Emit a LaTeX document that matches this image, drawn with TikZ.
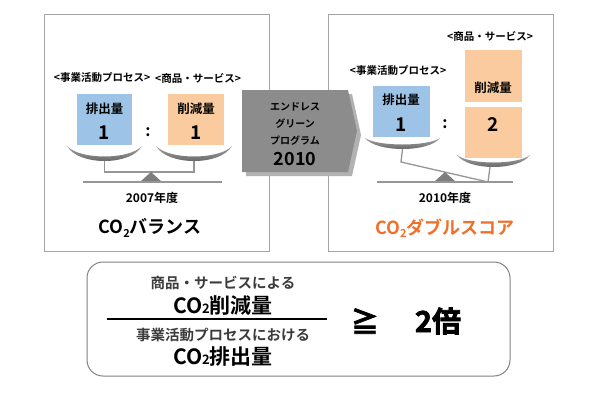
\documentclass[tikz,border=0pt]{standalone}
\usepackage{fontspec}
\setmainfont{Noto Sans CJK JP}[BoldFont={Noto Sans CJK JP Bold}]
\newfontfamily\geqfont{Noto Sans CJK JP Bold}[FakeBold=2.5]
\definecolor{boxline}{RGB}{165,165,165}
\definecolor{bluef}{RGB}{157,195,230}
\definecolor{orangef}{RGB}{249,203,158}
\definecolor{arrowg}{RGB}{140,140,140}
\definecolor{arrowsh}{RGB}{178,178,178}
\definecolor{orangetxt}{RGB}{240,112,42}
\definecolor{beamc}{RGB}{150,150,150}
\definecolor{fulc}{RGB}{125,125,125}
\definecolor{pantop}{RGB}{165,165,165}
\definecolor{panbot}{RGB}{85,85,85}
\definecolor{txtgray}{RGB}{60,60,60}
\definecolor{rbox}{RGB}{130,130,130}
\newcommand{\fsz}[1]{\fontsize{#1}{#1}\selectfont}
\newcommand{\drawpan}[4]{%
  \shade[top color=pantop,bottom color=panbot]
    (#1,#3) .. controls ({#1+0.15*(#2-#1)},{(4*#4-#3)/3}) and ({#2-0.15*(#2-#1)},{(4*#4-#3)/3}) .. (#2,#3)
    .. controls ({#2-0.17*(#2-#1)},{(4*(#4-4.5)-#3)/3}) and ({#1+0.17*(#2-#1)},{(4*(#4-4.5)-#3)/3}) .. (#1,#3) -- cycle;}
\tikzset{
  frame/.style={draw=boxline, line width=1.3pt, inner sep=0pt, anchor=north west},
  fillbox/.style={inner sep=0pt, anchor=north west},
  lbl/.style={font=\bfseries\fsz{10.5}, inner sep=0pt},
  qty/.style={font=\bfseries\fsz{12.5}, inner sep=0pt},
  num/.style={font=\bfseries\fsz{19}, inner sep=0pt},
  colon/.style={font=\bfseries\fsz{16}, inner sep=0pt},
  year/.style={font=\bfseries\fsz{12}, inner sep=0pt},
  title/.style={font=\bfseries\fsz{18}, inner sep=0pt},
  arrtxt/.style={font=\bfseries\fsz{10}, inner sep=0pt},
  beam/.style={draw=beamc, line width=1.3pt},
  ground/.style={draw=beamc, line width=1.5pt},
  fulcrum/.style={fill=fulc},
}
\newcommand{\cosub}[1]{CO\raisebox{-0.35ex}{\fsz{#1}2}}
\begin{document}
\begin{tikzpicture}[x=1pt,y=-1pt]
\useasboundingbox (0,0) rectangle (600,400);
\fill[white] (0,0) rectangle (600,400);
% frames
\node[frame, minimum width=225pt, minimum height=237pt] (lbox) at (44,14) {};
\node[frame, minimum width=225pt, minimum height=237pt] (rbox) at (328,14) {};
% ---------- left panel ----------
\node[lbl] (lproc) at (102,78) {<事業活動プロセス>};
\node[lbl] (lprod) at (198,78) {<商品・サービス>};
\node[fillbox, fill=bluef, minimum width=55pt, minimum height=51pt] (lblue) at (77,94) {};
\node[fillbox, fill=orangef, minimum width=56pt, minimum height=51pt] (lorange) at (168,94) {};
\node[qty] (lemit) at (104.5,109) {排出量};
\node[num] (lone) at (104.5,133) {1};
\node[qty] (lred) at (196,109) {削減量};
\node[num] (ltwo) at (196,133) {1};
\node[colon] (lcolon) at (148,132) {:};
\drawpan{67}{142}{146}{161}
\drawpan{156}{232}{146}{161}
\coordinate (lpa) at (104.5,161);
\coordinate (lpb) at (194,161);
\draw[beam] (lpa) -- (104.5,172) -- (194,172) -- (lpb);
\fill[fulcrum] (151,172) -- (162,182) -- (140,182) -- cycle;
\coordinate (lg1) at (83,182);
\coordinate (lg2) at (222,182);
\draw[ground] (lg1) -- (lg2);
\node[year] (lyear) at (152,198) {2007年度};
\node[title] (ltitle) at (150,228) {\cosub{11}バランス};
% ---------- right panel ----------
\node[lbl] (rprod) at (490,36) {<商品・サービス>};
\node[lbl] (rproc) at (398,71) {<事業活動プロセス>};
\node[fillbox, fill=bluef, minimum width=57pt, minimum height=51pt] (rblue) at (373,86) {};
\node[fillbox, fill=orangef, minimum width=57pt, minimum height=52pt] (rorange1) at (465,50) {};
\node[fillbox, fill=orangef, minimum width=57pt, minimum height=51pt] (rorange2) at (465,107) {};
\node[qty] (remit) at (401,100) {排出量};
\node[num] (rone) at (401,125) {1};
\node[qty] (rred) at (493,88) {削減量};
\node[num] (rtwo) at (493,125) {2};
\node[colon] (rcolon) at (445,124) {:};
\drawpan{365}{440}{138}{149}
\drawpan{457}{530}{155}{167}
\coordinate (rpa) at (402.5,149);
\coordinate (rpb) at (490,167);
\draw[beam] (rpa) -- (401,162) -- (488,182) -- (rpb);
\fill[fulcrum] (445,172) -- (456,182) -- (434,182) -- cycle;
\coordinate (rg1) at (377,182);
\coordinate (rg2) at (513,182);
\draw[ground] (rg1) -- (rg2);
\node[year] (ryear) at (445,198) {2010年度};
\node[title, text=orangetxt] (rtitle) at (445,228) {\cosub{11}ダブルスコア};
% ---------- arrow ----------
\fill[arrowsh] (246,94) -- (352,94) -- (361,135) -- (352,176) -- (246,176) -- cycle;
\fill[arrowg] (242,90) -- (348,90) -- (357,131) -- (348,172) -- (242,172) -- cycle;
\node[arrtxt] (a1) at (295,107) {エンドレス};
\node[arrtxt] (a2) at (295,124) {グリーン};
\node[arrtxt] (a3) at (295,141) {プログラム};
\node[font=\bfseries\fsz{18}, inner sep=0pt] (a4) at (295,159) {2010};
% ---------- bottom ----------
\draw[draw=rbox, line width=1pt, rounded corners=16pt] (87,262) rectangle (510,376);
\node[font=\bfseries\fsz{14.5}, text=txtgray, inner sep=0pt] (b1) at (223,283) {商品・サービスによる};
\node[font=\bfseries\fsz{21}, inner sep=0pt] (b2) at (223,306) {CO{\fsz{13}2}削減量};
\coordinate (f1) at (107,319);
\coordinate (f2) at (327,319);
\draw[line width=1.2pt] (f1) -- (f2);
\node[font=\bfseries\fsz{14.5}, text=txtgray, inner sep=0pt] (b3) at (223,335) {事業活動プロセスにおける};
\node[font=\bfseries\fsz{21}, inner sep=0pt] (b4) at (223,357) {CO{\fsz{13}2}排出量};
\node[font=\geqfont\fsz{28}, inner sep=0pt] (geq) at (365,321) {≧};
\node[font=\geqfont\fsz{29}, inner sep=0pt] (times) at (438,321) {2倍};
\end{tikzpicture}
\end{document}
